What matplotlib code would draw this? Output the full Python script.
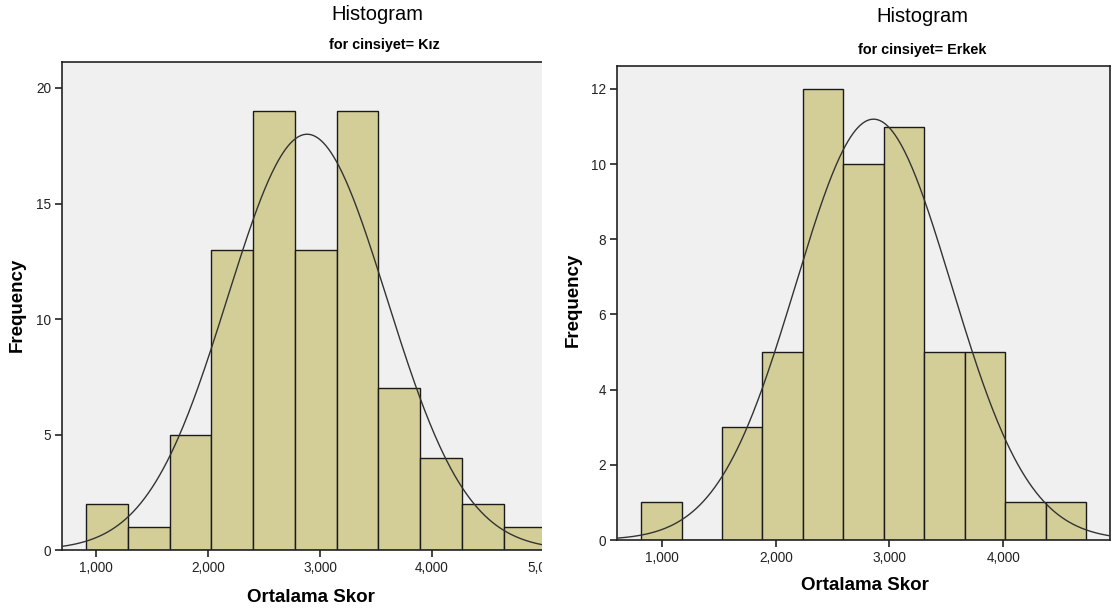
import matplotlib.pyplot as plt
import numpy as np
from matplotlib.patches import Rectangle

plt.rcParams['font.family'] = ['Liberation Sans', 'DejaVu Sans']

# Kız group: bin edges and counts
kiz_start = 911
kiz_width = 373
kiz_counts = [2, 1, 5, 13, 19, 13, 19, 7, 4, 2, 1]
kiz_mean = 2885
kiz_sd = 711

# Erkek group
erkek_start = 815
erkek_width = 356
erkek_counts = [1, 0, 3, 5, 12, 10, 11, 5, 5, 1, 1]
erkek_mean = 2860
erkek_sd = 685

x_ticks = [1000, 2000, 3000, 4000, 5000]
x_labels = ['1,000', '2,000', '3,000', '4,000', '5,000']

BAR = '#d3ce97'
BG = '#f0f0f0'


def draw_hist(ax, start, width, counts, mean, sd, xlim, ylim, yticks, nx):
    counts = np.array(counts)
    lefts = start + width * np.arange(len(counts))
    ax.bar(lefts, counts, width=width, align='edge', color=BAR,
           edgecolor='#1a1a1a', linewidth=1.0, zorder=2)
    xs = np.linspace(xlim[0], xlim[1], 400)
    n = counts.sum()
    ys = n * width / (sd * np.sqrt(2 * np.pi)) * np.exp(-0.5 * ((xs - mean) / sd) ** 2)
    ax.plot(xs, ys, color='#333333', linewidth=1.0, zorder=3)
    ax.set_facecolor(BG)
    ax.set_xlim(*xlim)
    ax.set_ylim(*ylim)
    ax.set_xticks(x_ticks[:nx])
    ax.set_xticklabels(x_labels[:nx])
    ax.set_yticks(yticks)
    ax.tick_params(direction='out', length=5, width=1.2, labelsize=9.8,
                   colors='#222222', pad=3)
    for s in ax.spines.values():
        s.set_color('#222222')
        s.set_linewidth(1.2)


fig = plt.figure(figsize=(11.13, 6.14), dpi=100)

ax1 = fig.add_axes([0.0557, 0.1042, 0.4483, 0.795])
draw_hist(ax1, kiz_start, kiz_width, kiz_counts, kiz_mean, kiz_sd,
          (696, 5152), (0, 21.13), [0, 5, 10, 15, 20], 5)

ax2 = fig.add_axes([0.5544, 0.1205, 0.443, 0.772])
draw_hist(ax2, erkek_start, erkek_width, erkek_counts, erkek_mean, erkek_sd,
          (604, 4941), (0, 12.61), [0, 2, 4, 6, 8, 10, 12], 4)

# left panel is cut off on its right side
fig.add_artist(Rectangle((542 / 1113, 0), 20 / 1113, 1, transform=fig.transFigure,
                         facecolor='white', edgecolor='none', zorder=10))

fig.text(377 / 1113, 1 - 14 / 614, 'Histogram', ha='center', va='center', fontsize=14.5)
fig.text(384 / 1113, 1 - 45 / 614, 'for cinsiyet= Kız', ha='center', va='center',
         fontsize=10.4, fontweight='bold')
fig.text(922 / 1113, 1 - 17 / 614, 'Histogram', ha='center', va='center', fontsize=14.5)
fig.text(922 / 1113, 1 - 50 / 614, 'for cinsiyet= Erkek', ha='center', va='center',
         fontsize=10.4, fontweight='bold')

fig.text(311 / 1113, 1 - 598 / 614, 'Ortalama Skor', ha='center', va='center',
         fontsize=13.5, fontweight='bold')
fig.text(865 / 1113, 1 - 585 / 614, 'Ortalama Skor', ha='center', va='center',
         fontsize=13.5, fontweight='bold')
fig.text(17 / 1113, 1 - 305 / 614, 'Frequency', ha='center', va='center',
         fontsize=13.5, fontweight='bold', rotation=90)
fig.text(573 / 1113, 1 - 300 / 614, 'Frequency', ha='center', va='center',
         fontsize=13.5, fontweight='bold', rotation=90)

fig.savefig('out.png', dpi=100)
